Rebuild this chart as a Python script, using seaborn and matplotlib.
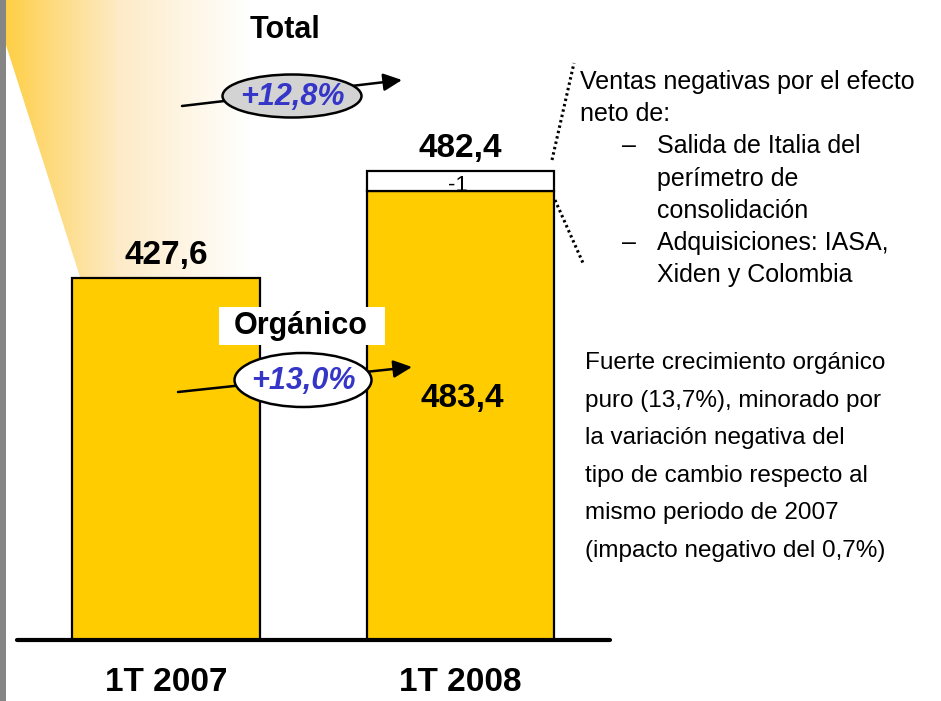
import numpy as np
import seaborn as sns
import matplotlib.pyplot as plt
from matplotlib.patches import Ellipse, Polygon, Rectangle
from matplotlib.colors import LinearSegmentedColormap

# ---- data ----
categorias = ["1T 2007", "1T 2008"]
organico = [427.6, 483.4]          # yellow bars
ajuste = [None, -1]                # white cap on 1T 2008
total = [427.6, 482.4]             # labels above the bars
crec_total = "+12,8%"
crec_organico = "+13,0%"

nota_perimetro = [
    (0, "Ventas negativas por el efecto"),
    (0, "neto de:"),
    (1, "Salida de Italia del"),
    (2, "perímetro de"),
    (2, "consolidación"),
    (1, "Adquisiciones: IASA,"),
    (2, "Xiden y Colombia"),
]
nota_crecimiento = [
    "Fuerte crecimiento orgánico",
    "puro (13,7%), minorado por",
    "la variación negativa del",
    "tipo de cambio respecto al",
    "mismo periodo de 2007",
    "(impacto negativo del 0,7%)",
]

def fmt(v):
    return f"{v:.1f}".replace(".", ",")

# ---- style ----
W, H = 941, 701
AMARILLO = "#FFCC00"
AZUL = "#3535C8"
sns.set_theme(style="white")
plt.rcParams["font.family"] = ["Liberation Sans", "DejaVu Sans"]
plt.rcParams["text.color"] = "black"
plt.rcParams["xtick.color"] = "black"

fig = plt.figure(figsize=(W / 100, H / 100), dpi=100)
fig.patch.set_facecolor("white")

# background layer (pixel coords): grey strip + yellow fan gradient
bg = fig.add_axes([0, 0, 1, 1], zorder=0)
bg.set_xlim(0, W)
bg.set_ylim(H, 0)
bg.axis("off")
bg.add_patch(Rectangle((0, 0), 6, H, color="#858585", lw=0))
cmap = LinearSegmentedColormap.from_list(
    "fan", [(0, "#FFCF45"), (0.15, "#FED873"), (0.47, "#FDEBC8"), (1, "#FFFFFF")])
grad = np.linspace(0, 1, 256)[None, :]
im = bg.imshow(grad, cmap=cmap, extent=(6, 250, 277, 0), aspect="auto")
fan = Polygon([(6, 0), (6, 45), (80, 277), (250, 277), (250, 0)],
              closed=True, transform=bg.transData, facecolor="none", edgecolor="none")
bg.add_patch(fan)
im.set_clip_path(fan)

# ---- bars ----
ax = fig.add_axes([0, 0, 1, 1], zorder=1)
ax.set_facecolor("none")
base = 195.0
bar_w = 0.635
sns.barplot(x=categorias, y=organico, ax=ax, color=AMARILLO, saturation=1,
            width=bar_w, edgecolor="black", linewidth=1.6)
# truncated baseline: bars start at `base`
for p in ax.patches:
    h = p.get_height()
    p.set_y(base)
    p.set_height(h - base)
    p.set_zorder(2)

u = 294.5
ax.set_xlim(-166 / u, (W - 166) / u)
ax.set_ylim(156.0, 606.0)
cap_h = 12.8   # visible height of the adjustment segment
for i, a in enumerate(ajuste):
    if a is None:
        continue
    ax.bar(i, cap_h, bottom=organico[i], width=bar_w, color="white",
           edgecolor="black", linewidth=1.6, zorder=2)
    ax.annotate(f"{a:d}", xy=(i, organico[i] + cap_h / 2),
                xytext=(-3, -4), textcoords="offset pixels",
                ha="center", va="center", fontsize=16, zorder=3)

for i, v in enumerate(total):
    top = organico[i] + (cap_h if ajuste[i] is not None else 0)
    ax.annotate(fmt(v), xy=(i, top), xytext=(0, 7), textcoords="offset pixels",
                ha="center", va="bottom", fontsize=24, fontweight="bold")
ax.annotate(fmt(organico[1]), xy=(1, organico[1]), xytext=(2, -208),
            textcoords="offset pixels", ha="center", va="center",
            fontsize=24, fontweight="bold")

for s in ["left", "right", "top"]:
    ax.spines[s].set_visible(False)
sp = ax.spines["bottom"]
sp.set_position(("data", base))
sp.set_bounds((17 - 166) / u, (610 - 166) / u)
sp.set_linewidth(3.0)
sp.set_color("black")
sp.set_capstyle("round")
ax.set_yticks([])
ax.tick_params(axis="x", length=0, pad=19, labelsize=24, labelcolor="black")
for lab in ax.get_xticklabels():
    lab.set_fontweight("bold")
ax.set_xlabel("")
ax.set_ylabel("")

# ---- annotations (pixel coords) ----
ov = fig.add_axes([0, 0, 1, 1], zorder=3)
ov.set_facecolor("none")
ov.set_xlim(0, W)
ov.set_ylim(H, 0)
ov.axis("off")

arrow = dict(arrowstyle="-|>,head_length=0.8,head_width=0.38", lw=1.8,
             color="black", shrinkA=0, shrinkB=0, mutation_scale=14)

ov.text(285, 30, "Total", ha="center", va="center", fontsize=22, fontweight="bold")
ov.annotate("", xy=(402, 80), xytext=(182, 106), arrowprops=arrow)
ov.add_patch(Ellipse((292, 96), 139, 43, facecolor="#D3D3D3", edgecolor="black",
                     lw=1.8, zorder=4))
ov.text(292, 97, crec_total, ha="center", va="center", fontsize=22,
        fontweight="bold", fontstyle="italic", color=AZUL, zorder=5)

ov.add_patch(Rectangle((219, 307), 166, 38, facecolor="white", edgecolor="none", zorder=2))
ov.text(301, 326, "Orgánico", ha="center", va="center", fontsize=22,
        fontweight="bold", zorder=3)
ov.annotate("", xy=(412, 367), xytext=(178, 392), arrowprops=arrow)
ov.add_patch(Ellipse((303, 380), 137, 54, facecolor="white", edgecolor="black",
                     lw=1.8, zorder=4))
ov.text(303, 381, crec_organico, ha="center", va="center", fontsize=22,
        fontweight="bold", fontstyle="italic", color=AZUL, zorder=5)

# dotted callout lines
ov.plot([552, 574], [160, 63], color="black", lw=2.2, ls=(0, (0.8, 1.0)))
ov.plot([555, 583], [200, 263], color="black", lw=2.2, ls=(0, (0.8, 1.0)))

for j, (lvl, txt) in enumerate(nota_perimetro):
    y = 82 + j * 32.2
    if lvl == 1:
        ov.text(622, y, "–", ha="left", va="center", fontsize=18)
    x = 580 if lvl == 0 else 657
    ov.text(x, y, txt, ha="left", va="center", fontsize=18)

for j, txt in enumerate(nota_crecimiento):
    ov.text(585, 363 + j * 37.6, txt, ha="left", va="center", fontsize=17.5)

fig.savefig("out.png", dpi=100)
